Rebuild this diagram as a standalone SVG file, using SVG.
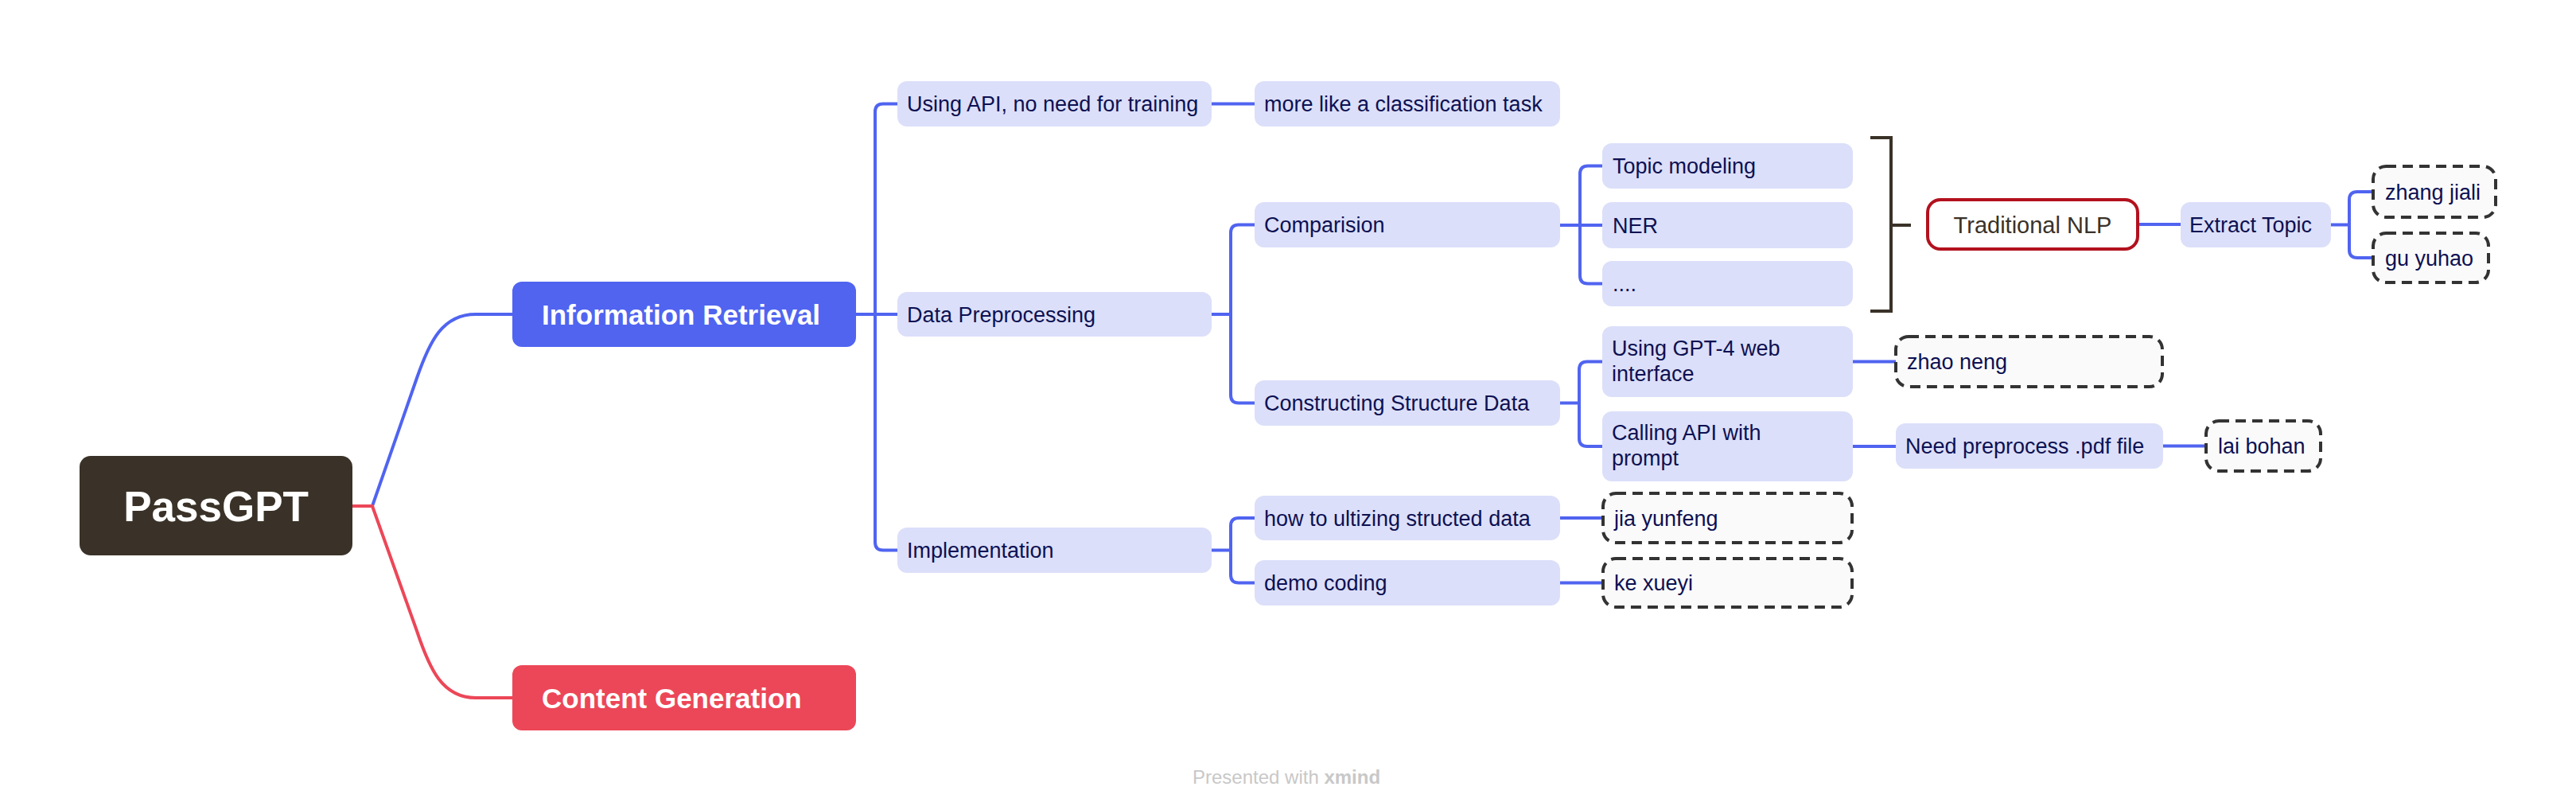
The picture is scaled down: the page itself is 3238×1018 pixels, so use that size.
<svg xmlns="http://www.w3.org/2000/svg" width="3238" height="1018" viewBox="0 0 3238 1018">
<style>
text{font-family:"Liberation Sans",Arial,sans-serif}
.b{fill:#dcdff9}
.t{font-size:27px;fill:#0d1152}
.d{fill:#fafafa;stroke:#333;stroke-width:4;stroke-dasharray:13 8}
.c{fill:none;stroke:#5064f0;stroke-width:4}
.cr{fill:none;stroke:#ec4758;stroke-width:4}
.br{fill:none;stroke:#3a3228;stroke-width:4}
.w{fill:#fff;font-weight:bold}
</style>
<rect width="3238" height="1018" fill="#fff"/>
<g id="connectors">
<path class="c" d="M443,636 H468 L524,475 C540,429 556,395 598,395 H644"/>
<path class="cr" d="M443,636 H468 L524,793 C540,841 556,877 598,877 H644"/>
<path class="c" d="M1076,395 H1128"/>
<path class="c" d="M1128,130.5 H1110 Q1100,130.5 1100,140.5 V681.5 Q1100,691.5 1110,691.5 H1128"/>
<path class="c" d="M1523,130.5 H1577"/>
<path class="c" d="M1523,395 H1547"/>
<path class="c" d="M1577,282.5 H1557 Q1547,282.5 1547,292.5 V496.5 Q1547,506.5 1557,506.5 H1577"/>
<path class="c" d="M1961,283 H2014"/>
<path class="c" d="M2014,208.5 H1996 Q1986,208.5 1986,218.5 V346.5 Q1986,356.5 1996,356.5 H2014"/>
<path class="c" d="M1961,506.5 H1985"/>
<path class="c" d="M2014,454.5 H1995 Q1985,454.5 1985,464.5 V551 Q1985,561 1995,561 H2014"/>
<path class="c" d="M1523,691.5 H1547"/>
<path class="c" d="M1577,651 H1557 Q1547,651 1547,661 V722.5 Q1547,732.5 1557,732.5 H1577"/>
<path class="c" d="M1961,651 H2015"/>
<path class="c" d="M1961,732.5 H2015"/>
<path class="c" d="M2329,454.5 H2383"/>
<path class="c" d="M2329,561 H2383"/>
<path class="c" d="M2719,560.5 H2773"/>
<path class="c" d="M2687,282 H2741"/>
<path class="c" d="M2930,282.5 H2953"/>
<path class="c" d="M2983,241 H2963 Q2953,241 2953,251 V314 Q2953,324 2963,324 H2983"/>
<path class="br" d="M2351,173 H2377 V391 H2351 M2377,283 H2402"/>
</g>
<g id="root">
<rect x="100" y="573" width="343" height="125" rx="14" fill="#3a3228"/>
<text class="w" x="271.5" y="655" font-size="53" text-anchor="middle">PassGPT</text>
</g>
<g id="information-retrieval">
<rect x="644" y="354" width="432" height="82" rx="12" fill="#5064f0"/>
<text class="w" x="681" y="408" font-size="35">Information Retrieval</text>
</g>
<g id="content-generation">
<rect x="644" y="836" width="432" height="82" rx="12" fill="#ec4758"/>
<text class="w" x="681" y="890" font-size="35">Content Generation</text>
</g>
<g id="using-api">
<rect class="b" x="1128" y="102" width="395" height="57" rx="12"/>
<text class="t" x="1140" y="140">Using API, no need for training</text>
</g>
<g id="classification">
<rect class="b" x="1577" y="102" width="384" height="57" rx="12"/>
<text class="t" x="1589" y="140">more like a classification task</text>
</g>
<g id="data-preprocessing">
<rect class="b" x="1128" y="367" width="395" height="56" rx="12"/>
<text class="t" x="1140" y="404.5">Data Preprocessing</text>
</g>
<g id="comparision">
<rect class="b" x="1577" y="254" width="384" height="57" rx="12"/>
<text class="t" x="1589" y="292">Comparision</text>
</g>
<g id="topic-modeling">
<rect class="b" x="2014" y="180" width="315" height="57" rx="12"/>
<text class="t" x="2027" y="218">Topic modeling</text>
</g>
<g id="ner">
<rect class="b" x="2014" y="254" width="315" height="58" rx="12"/>
<text class="t" x="2027" y="292.5">NER</text>
</g>
<g id="etc">
<rect class="b" x="2014" y="328" width="315" height="57" rx="12"/>
<text class="t" x="2027" y="366">....</text>
</g>
<g id="traditional-nlp">
<rect x="2423" y="251" width="264" height="62" rx="16" fill="#fff" stroke="#b3111e" stroke-width="4"/>
<text x="2555" y="293" font-size="29" fill="#3a3228" text-anchor="middle">Traditional NLP</text>
</g>
<g id="extract-topic">
<rect class="b" x="2741" y="254" width="189" height="57" rx="12"/>
<text class="t" x="2752" y="292">Extract Topic</text>
</g>
<g id="zhang-jiali">
<rect class="d" x="2983" y="209" width="154" height="64" rx="16"/>
<text class="t" x="2998" y="250.5">zhang jiali</text>
</g>
<g id="gu-yuhao">
<rect class="d" x="2983" y="293" width="145" height="62" rx="16"/>
<text class="t" x="2998" y="333.5">gu yuhao</text>
</g>
<g id="constructing-structure-data">
<rect class="b" x="1577" y="478" width="384" height="57" rx="12"/>
<text class="t" x="1589" y="516">Constructing Structure Data</text>
</g>
<g id="gpt4-web">
<rect class="b" x="2014" y="410" width="315" height="89" rx="12"/>
<text class="t" x="2026" y="447">Using GPT-4 web</text>
<text class="t" x="2026" y="479">interface</text>
</g>
<g id="zhao-neng">
<rect class="d" x="2383" y="423" width="335" height="63" rx="16"/>
<text class="t" x="2397" y="464">zhao neng</text>
</g>
<g id="calling-api">
<rect class="b" x="2014" y="517" width="315" height="88" rx="12"/>
<text class="t" x="2026" y="553">Calling API with</text>
<text class="t" x="2026" y="585">prompt</text>
</g>
<g id="need-preprocess">
<rect class="b" x="2383" y="532" width="336" height="57" rx="12"/>
<text class="t" x="2395" y="570">Need preprocess .pdf file</text>
</g>
<g id="lai-bohan">
<rect class="d" x="2773" y="529" width="144" height="63" rx="16"/>
<text class="t" x="2788" y="570">lai bohan</text>
</g>
<g id="implementation">
<rect class="b" x="1128" y="663" width="395" height="57" rx="12"/>
<text class="t" x="1140" y="701">Implementation</text>
</g>
<g id="how-to-ultizing">
<rect class="b" x="1577" y="623" width="384" height="56" rx="12"/>
<text class="t" x="1589" y="660.5">how to ultizing structed data</text>
</g>
<g id="jia-yunfeng">
<rect class="d" x="2015" y="620" width="313" height="62" rx="16"/>
<text class="t" x="2029" y="660.5">jia yunfeng</text>
</g>
<g id="demo-coding">
<rect class="b" x="1577" y="704" width="384" height="57" rx="12"/>
<text class="t" x="1589" y="742">demo coding</text>
</g>
<g id="ke-xueyi">
<rect class="d" x="2015" y="702" width="313" height="61" rx="16"/>
<text class="t" x="2029" y="742">ke xueyi</text>
</g>
<text x="1499" y="985" font-size="24" fill="#c8c8c8">Presented with <tspan font-weight="bold">xmind</tspan></text>
</svg>
